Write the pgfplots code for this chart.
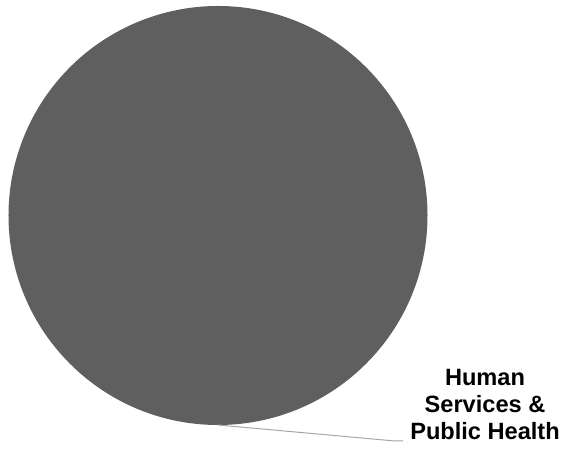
\documentclass[border=0pt]{standalone}
\usepackage{pgfplots}
\pgfplotsset{compat=1.18}
\usepackage{pgfplotstable}
\usetikzlibrary{calc}
\usepackage{fontspec}
\setmainfont{Liberation Sans}

\definecolor{slicegray}{HTML}{5F5F5F}
\definecolor{leadergray}{HTML}{A6A6A6}

% share of the budget by area (one area only)
\pgfplotstableread[col sep=comma]{
area,share
Human Services,100
}\piedata

\begin{document}
\begin{tikzpicture}
\pgfplotstablegetelem{0}{share}\of\piedata
\let\sliceshare\pgfplotsretval
% slice angle: starts at 12 o'clock and runs clockwise
\pgfmathsetmacro{\sweep}{3.6*\sliceshare}
\pgfmathsetmacro{\midang}{90-\sweep/2}
\begin{axis}[
  x=1bp, y=1bp,
  xmin=0, xmax=564, ymin=0, ymax=450,
  hide axis, clip=false,
  scale only axis,
]
  \path (axis cs:0,0) rectangle (axis cs:564,450);
  \fill[slicegray] (axis cs:218,234.5) -- ++(90:209.5bp)
      arc[start angle=90, delta angle=-\sweep, radius=209.5bp] -- cycle;
  % leader line to the label
  \draw[leadergray, line width=1bp]
      ($(axis cs:218,234.5)+(\midang:209.5bp)$) -- (axis cs:395,9) -- (axis cs:403,9);
  \node[font=\fontsize{23.6bp}{27bp}\selectfont\bfseries, align=center,
        anchor=base, inner sep=0pt] at (axis cs:485,10)
      {Human\\Services \&\\Public Health};
\end{axis}
\end{tikzpicture}
\end{document}
